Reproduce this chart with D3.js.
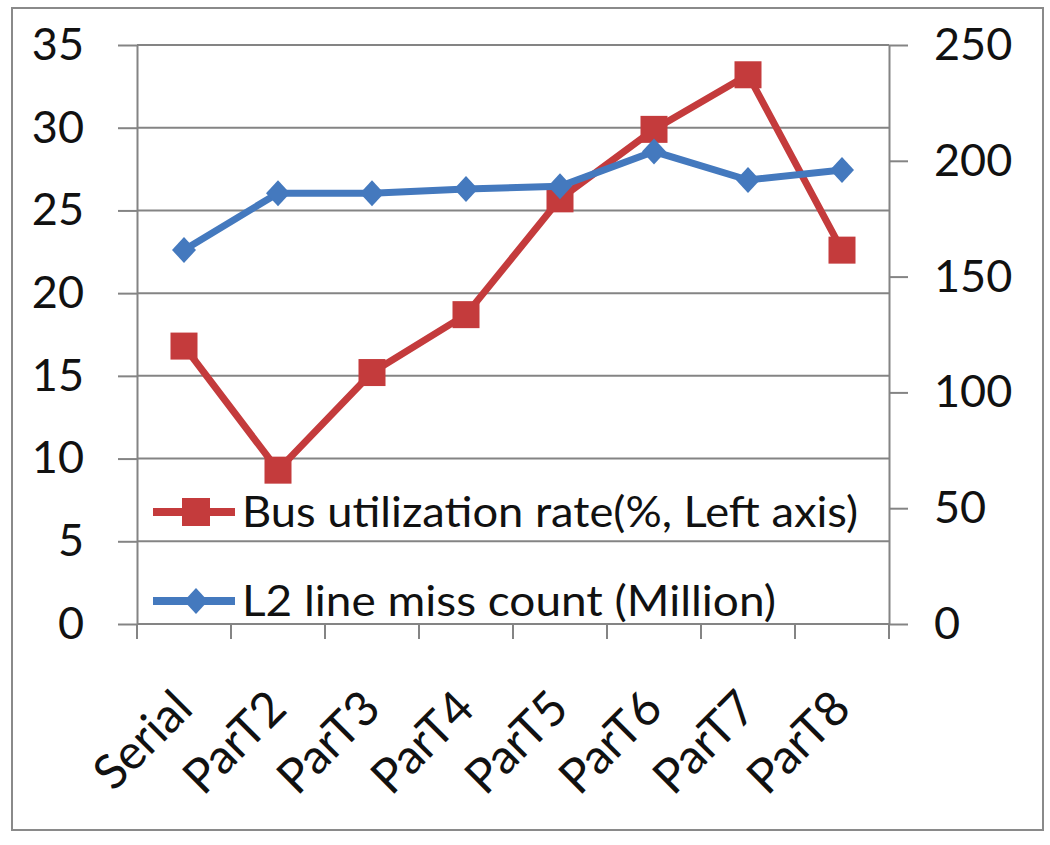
<!DOCTYPE html>
<html>
<head>
<meta charset="utf-8">
<script src="https://cdn.jsdelivr.net/npm/d3@7"></script>
<style>
  body { margin: 0; background: #fff; }
  svg { display: block; }
  .tick text { font-family: Lato, "Open Sans", sans-serif; fill: #111; }
</style>
</head>
<body>
<div id="chart"></div>
<script>
// chart values
var categories = ["Serial", "ParT2", "ParT3", "ParT4", "ParT5", "ParT6", "ParT7", "ParT8"];
var busUtil = [16.8, 9.3, 15.2, 18.7, 25.7, 29.9, 33.2, 22.6];   // left axis, %
var l2Miss = [161.5, 186, 186, 187.8, 189, 204, 191.7, 196];     // right axis, million
var leftTicks = [0, 5, 10, 15, 20, 25, 30, 35];
var rightTicks = [0, 50, 100, 150, 200, 250];
var seriesNames = ["Bus utilization rate(%, Left axis)", "L2 line miss count (Million)"];

var W = 1050, H = 845;
var red = "#C43B3C", blue = "#4479BE", grid = "#848484";

var svg = d3.select("#chart").append("svg")
  .attr("width", W).attr("height", H);

// outer frame
svg.append("rect")
  .attr("x", 12).attr("y", 8).attr("width", 1031).attr("height", 822)
  .attr("fill", "#fff").attr("stroke", "#8a8a8a").attr("stroke-width", 2);

var x = d3.scaleBand().domain(categories).range([137, 889]).padding(0);
var yL = d3.scaleLinear().domain([0, 35]).range([624, 45]);
var yR = d3.scaleLinear().domain([0, 250]).range([624, 45]);

// horizontal grid
svg.append("g").selectAll("line").data(leftTicks).enter().append("line")
  .attr("x1", 137).attr("x2", 889)
  .attr("y1", function(d) { return yL(d); }).attr("y2", function(d) { return yL(d); })
  .attr("stroke", grid).attr("stroke-width", 2);

function styleAxis(g) {
  g.select(".domain").attr("stroke", grid).attr("stroke-width", 2);
  g.selectAll(".tick line").attr("stroke", grid).attr("stroke-width", 2);
}

var axL = svg.append("g").attr("transform", "translate(137,0)")
  .call(d3.axisLeft(yL).tickValues(leftTicks).tickSize(19).tickSizeOuter(0).tickPadding(34));
styleAxis(axL);
axL.selectAll(".tick text").attr("font-size", 45);

var axR = svg.append("g").attr("transform", "translate(889,0)")
  .call(d3.axisRight(yR).tickValues(rightTicks).tickSize(19).tickSizeOuter(0).tickPadding(26));
styleAxis(axR);
axR.selectAll(".tick text").attr("font-size", 45);

// x axis: ticks on category boundaries
var axX = svg.append("g").attr("transform", "translate(0," + yL(0) + ")");
axX.append("line").attr("x1", 137).attr("x2", 889).attr("stroke", grid).attr("stroke-width", 2);
axX.selectAll("line.tk").data(categories.concat(["end"])).enter().append("line")
  .attr("class", "tk")
  .attr("x1", function(d, i) { return x.range()[0] + i * x.bandwidth(); })
  .attr("x2", function(d, i) { return x.range()[0] + i * x.bandwidth(); })
  .attr("y1", 0).attr("y2", 15)
  .attr("stroke", grid).attr("stroke-width", 2);
axX.selectAll("text").data(categories).enter().append("text")
  .attr("transform", function(d) {
    return "translate(" + (x(d) + x.bandwidth() / 2 + 11) + ",87)rotate(-45)";
  })
  .attr("text-anchor", "end")
  .attr("font-family", "Lato, 'Open Sans', sans-serif")
  .attr("font-size", 48).attr("fill", "#111")
  .text(function(d) { return d; });

function cx(d, i) { return x(categories[i]) + x.bandwidth() / 2; }

// red series (left axis)
var lineL = d3.line().x(cx).y(function(d) { return yL(d); });
svg.append("path").datum(busUtil).attr("d", lineL)
  .attr("fill", "none").attr("stroke", red).attr("stroke-width", 7).attr("stroke-linejoin", "miter");
svg.append("g").selectAll("rect").data(busUtil).enter().append("rect")
  .attr("x", function(d, i) { return cx(d, i) - 13.5; })
  .attr("y", function(d) { return yL(d) - 13.5; })
  .attr("width", 27).attr("height", 27).attr("fill", red);

// blue series (right axis)
var diamond = "M0,-13L12,0L0,13L-12,0Z";
var lineR = d3.line().x(cx).y(function(d) { return yR(d); });
svg.append("path").datum(l2Miss).attr("d", lineR)
  .attr("fill", "none").attr("stroke", blue).attr("stroke-width", 7);
svg.append("g").selectAll("path").data(l2Miss).enter().append("path")
  .attr("d", diamond)
  .attr("transform", function(d, i) { return "translate(" + cx(d, i) + "," + yR(d) + ")"; })
  .attr("fill", blue);

// legend
var leg = svg.append("g");
var legRows = [
  {name: seriesNames[0], color: red, y: 512, len: 616, square: true},
  {name: seriesNames[1], color: blue, y: 601, len: 534, square: false}
];
legRows.forEach(function(r) {
  leg.append("line").attr("x1", 153).attr("x2", 235).attr("y1", r.y).attr("y2", r.y)
    .attr("stroke", r.color).attr("stroke-width", 8);
  if (r.square) {
    leg.append("rect").attr("x", 182).attr("y", r.y - 14).attr("width", 28).attr("height", 28)
      .attr("fill", r.color);
  } else {
    leg.append("path").attr("d", diamond).attr("transform", "translate(196," + r.y + ")")
      .attr("fill", r.color);
  }
  leg.append("text").attr("x", 242).attr("y", r.y + 15)
    .attr("font-family", "Lato, 'Open Sans', sans-serif").attr("font-size", 42).attr("fill", "#111")
    .attr("textLength", r.len).attr("lengthAdjust", "spacingAndGlyphs")
    .text(r.name);
});
</script>
</body>
</html>
